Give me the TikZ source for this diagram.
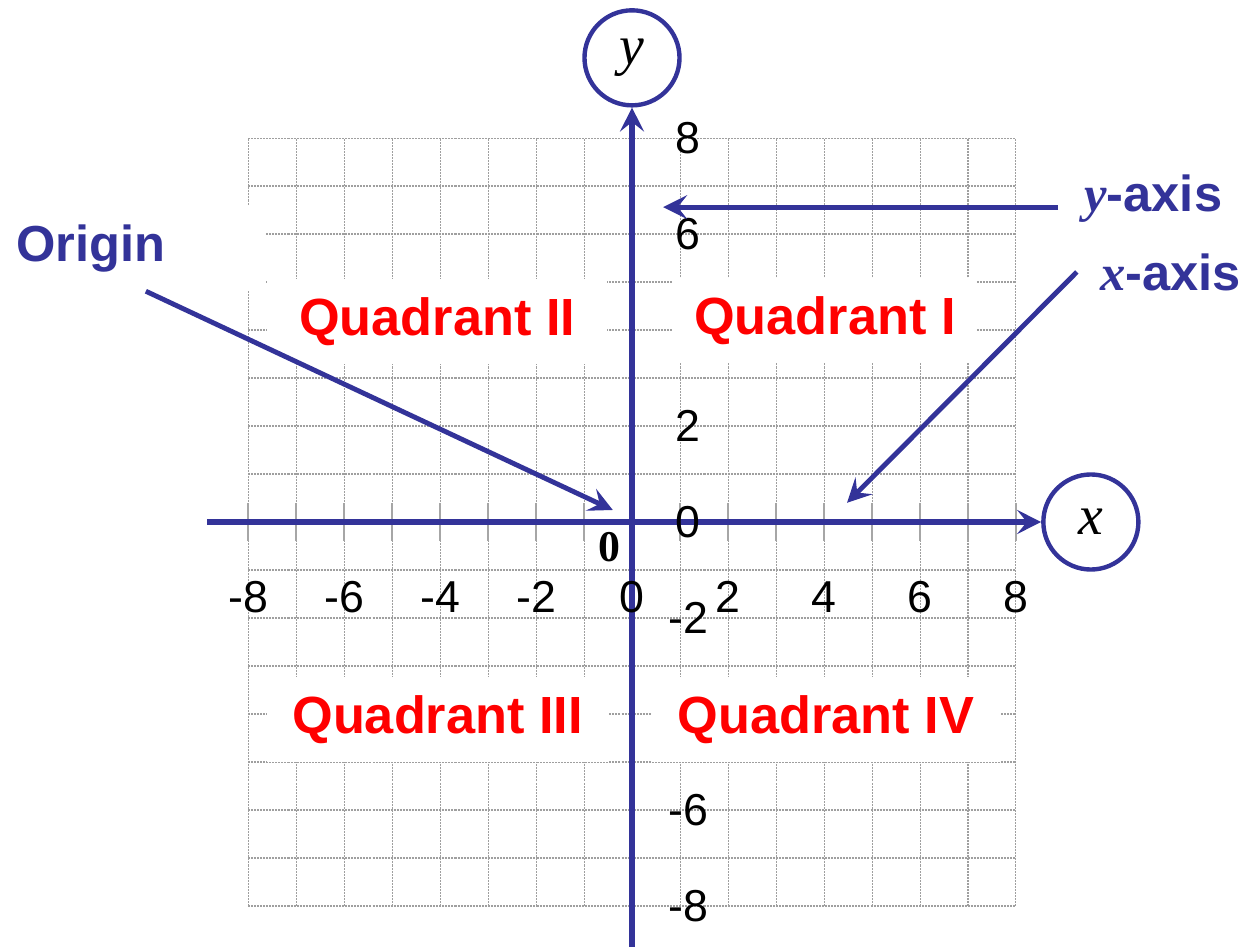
\documentclass[tikz,border=0pt]{standalone}
\usepackage{fontspec}
\setmainfont{Liberation Sans}
\newfontfamily\timesfont{Liberation Serif}
\usetikzlibrary{arrows.meta}
\definecolor{axisblue}{RGB}{51,51,153}
\begin{document}
\begin{tikzpicture}[>={Stealth[length=0.5cm,width=0.5cm,inset=0.2cm]},line join=round,
	gridline/.style={gray!75,line width=0.6pt,dash pattern=on 1.2pt off 0.6pt},
	tickline/.style={gray!70,line width=1.5pt},
	axisline/.style={axisblue,line width=3.3pt},
	pointer/.style={axisblue,line width=2.9pt,->},
	quad/.style={fill=white,text=red,font=\fontsize{31}{36}\selectfont\bfseries,minimum height=1.77cm},
	num/.style={font=\fontsize{26.5}{30}\selectfont,inner sep=0pt},
	letter/.style={circle,draw=axisblue,line width=2.6pt,minimum size=1.98cm,font=\fontsize{33}{36}\timesfont\itshape},
	tag/.style={text=axisblue,font=\fontsize{30}{34}\selectfont\bfseries}]
	\useasboundingbox (-13.167,-8.854) rectangle (12.875,10.875);
	\draw[gridline] (-8,-8) grid (8,8);
	\foreach \k in {-8,...,-1,1,2,...,8} \draw[tickline] (\k,-0.4) -- (\k,0.4);
	\node[quad,minimum width=6.35cm] (q1) at (4.02,4.2) {Quadrant I};
	\node[quad,minimum width=7.08cm] (q2) at (-4.06,4.17) {Quadrant II};
	\node[quad,minimum width=7.1cm] (q3) at (-4.05,-4.12) {Quadrant III};
	\node[quad,minimum width=7.25cm] (q4) at (4.04,-4.12) {Quadrant IV};
	\node[tag,fill=white,minimum width=7.25cm,minimum height=1.77cm] (orgn) at (-11.27,5.7) {Origin};
	\node[letter] (yc) at (0,9.67) {y};
	\node[letter] (xc) at (9.56,0) {x};
	\coordinate (xstart) at (-8.85,0);
	\coordinate (ystart) at (0,-8.85);
	\draw[axisline,->] (xstart) -- (xc);
	\draw[axisline,->] (ystart) -- (yc);
	\foreach \k [count=\i] in {-8,-6,...,8} \node[num] (xn\i) at (\k,-1.56) {\k};
	\foreach \k [count=\i] in {8,6,2,0,-2,-6,-8} \node[num] (yn\i) at (1.17,\k) {\k};
	\node[font=\fontsize{26}{30}\timesfont\bfseries,inner sep=0pt] (zero) at (-0.46,-0.52) {0};
	\node[tag,inner xsep=0.54cm] (ylab) at (10.86,6.73) {{\timesfont\bfseries\itshape y}-axis};
	\node[tag,inner xsep=0.48cm] (xlab) at (11.22,5.21) {{\timesfont\bfseries\itshape x}-axis};
	\coordinate (ytip) at (0.65,6.56);
	\coordinate (xtip) at (4.48,0.40);
	\coordinate (otip) at (-0.40,0.25);
	\draw[pointer] (ylab.west |- ytip) -- (ytip);
	\draw[pointer] (xlab.west) -- (xtip);
	\draw[pointer] (orgn.-38) -- (otip);
\end{tikzpicture}
\end{document}
